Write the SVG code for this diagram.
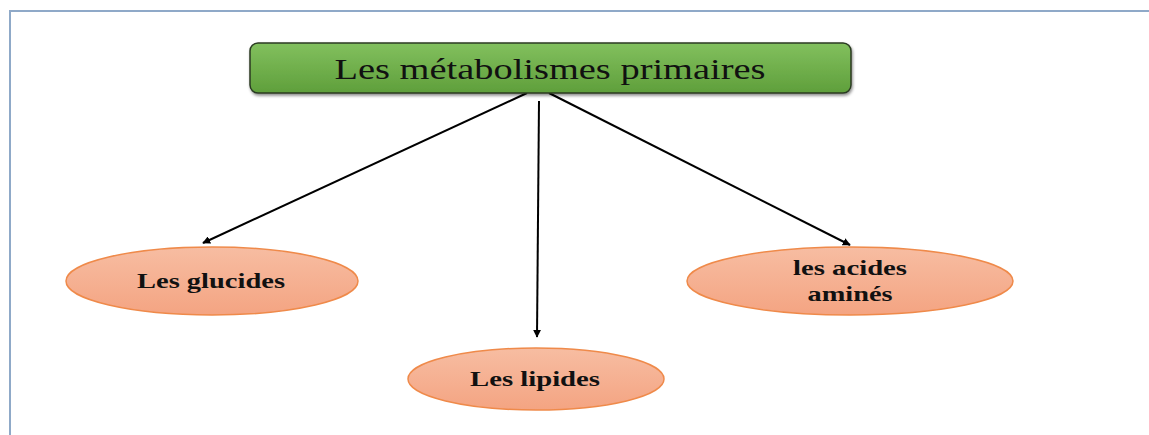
<svg xmlns="http://www.w3.org/2000/svg" width="1149" height="435" viewBox="0 0 1149 435">
<defs>
<linearGradient id="gGreen" x1="0" y1="0" x2="0" y2="1">
<stop offset="0" stop-color="#82c05e"/>
<stop offset="1" stop-color="#5f9f3b"/>
</linearGradient>
<linearGradient id="gOrange" x1="0" y1="0" x2="0" y2="1">
<stop offset="0" stop-color="#f7bda2"/>
<stop offset="1" stop-color="#f4a482"/>
</linearGradient>
<filter id="shadow" x="-5%" y="-20%" width="110%" height="150%">
<feDropShadow dx="1" dy="2" stdDeviation="1.5" flood-color="#000" flood-opacity="0.45"/>
</filter>
<marker id="arrow" viewBox="0 0 10 10" refX="9" refY="5" markerWidth="8" markerHeight="8" markerUnits="userSpaceOnUse" orient="auto">
<path d="M0,0 L10,5 L0,10 Z" fill="#000"/>
</marker>
<style>
.title{font-family:"Liberation Serif","Times New Roman",serif;font-size:30px;fill:#111;}
.lbl{font-family:"Liberation Serif","Times New Roman",serif;font-size:21px;font-weight:bold;fill:#111;}
.ell{fill:url(#gOrange);stroke:#ef8a4a;stroke-width:1.5;}
.conn{stroke:#000;stroke-width:2;fill:none;marker-end:url(#arrow);}
</style>
</defs>
<rect x="0" y="0" width="1149" height="435" fill="#fff"/>
<path d="M10,440 L10,11 L1155,11" fill="none" stroke="#8fa9c8" stroke-width="2"/>
<g id="connectors">
<line class="conn" x1="527" y1="93" x2="203" y2="243"/>
<line class="conn" x1="539" y1="101" x2="537" y2="337"/>
<line class="conn" x1="549" y1="93" x2="850" y2="245"/>
</g>
<g id="root">
<rect x="250" y="43" width="601" height="50" rx="8" ry="8" fill="url(#gGreen)" stroke="#2b3a22" stroke-width="1.5" filter="url(#shadow)"/>
<text class="title" x="550" y="79" text-anchor="middle" textLength="431" lengthAdjust="spacingAndGlyphs">Les métabolismes primaires</text>
</g>
<g id="glucides">
<ellipse class="ell" cx="212" cy="281" rx="146" ry="34"/>
<text class="lbl" x="211" y="288" text-anchor="middle" textLength="148" lengthAdjust="spacingAndGlyphs">Les glucides</text>
</g>
<g id="lipides">
<ellipse class="ell" cx="536" cy="379" rx="128" ry="31"/>
<text class="lbl" x="535" y="386" text-anchor="middle" textLength="130" lengthAdjust="spacingAndGlyphs">Les lipides</text>
</g>
<g id="acides">
<ellipse class="ell" cx="850" cy="281" rx="163" ry="34"/>
<text class="lbl" x="850" y="275" text-anchor="middle" textLength="114" lengthAdjust="spacingAndGlyphs">les acides</text>
<text class="lbl" x="850" y="301" text-anchor="middle" textLength="85" lengthAdjust="spacingAndGlyphs">aminés</text>
</g>
</svg>
